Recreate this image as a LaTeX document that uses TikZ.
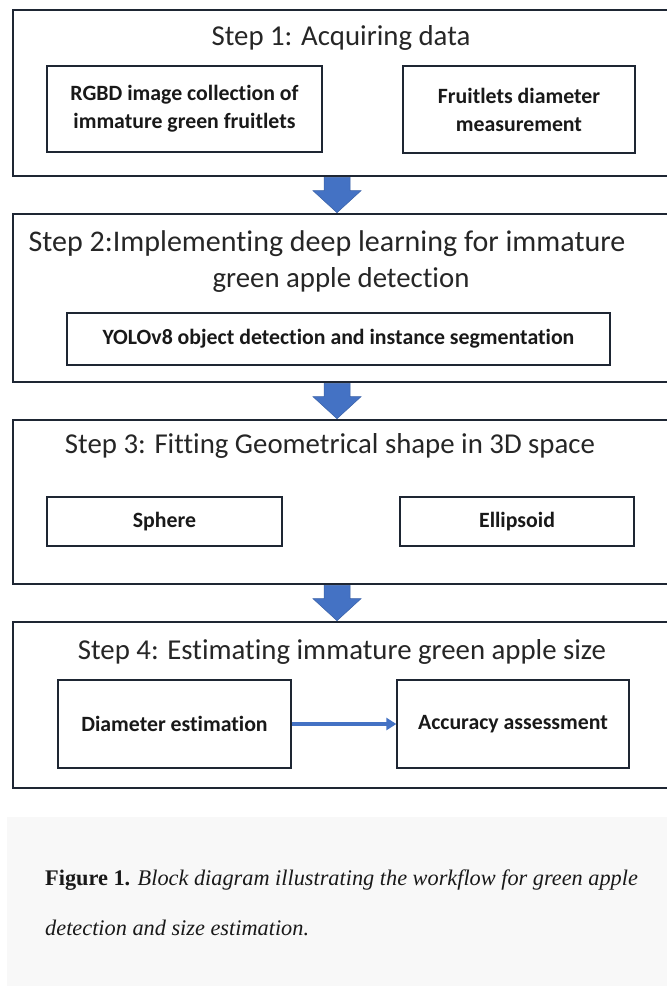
\documentclass[tikz,border=0pt]{standalone}
\usepackage{fontspec}
\setmainfont{Carlito}[Ligatures=NoCommon]
\newfontfamily\capfont{Liberation Serif}
\usetikzlibrary{arrows.meta,calc}
\definecolor{frame}{HTML}{1E2633}
\definecolor{ablue}{HTML}{4472C4}
\definecolor{capbg}{HTML}{F8F8F8}
\newcommand{\blockarr}[2]{%
  \fill[ablue,draw=ablue!85!black,line width=0.5pt] let \p1=(#1.south), \p2=(#2.north) in
    (324pt,\y1) -- (350pt,\y1) -- (350pt,{\y2+22pt}) -- (361pt,{\y2+22pt}) --
    (337pt,\y2) -- (313pt,{\y2+22pt}) -- (324pt,{\y2+22pt}) -- cycle;}
\begin{document}
\begin{tikzpicture}[x=1pt,y=-1pt,
  stepframe/.style={draw=frame,line width=2.6pt,rectangle,inner sep=0pt},
  inbox/.style={draw=frame,line width=1.3pt,rectangle,inner sep=0pt,align=center,
    font=\bfseries\fontsize{21.8}{28}\selectfont,text=black!90},
  steptitle/.style={font=\fontsize{28.8}{36}\selectfont,text=black!85,align=center,inner sep=0pt},
  capline/.style={anchor=base west,inner sep=0pt,font=\capfont\fontsize{22.3}{26}\selectfont,text=black!90},
]
\clip (0,0) rectangle (667,986);
\fill[white] (0,0) rectangle (667,986);
% step frames
\node[stepframe,minimum width=667,minimum height=166] (s1) at (346.5,93) {};
\node[stepframe,minimum width=667,minimum height=168] (s2) at (346.5,298) {};
\node[stepframe,minimum width=667,minimum height=164] (s3) at (346.5,502) {};
\node[stepframe,minimum width=667,minimum height=166] (s4) at (346.5,705) {};
% titles
\node[steptitle] (t1) at (341,38) {Step 1: Acquiring data};
\node[steptitle,font=\fontsize{30}{36}\selectfont] (t2) at (327,244) {Step 2:Implementing deep learning for immature};
\node[steptitle] (t2b) at (341,280) {green apple detection};
\node[steptitle] (t3) at (330,446) {Step 3: Fitting Geometrical shape in 3D space};
\node[steptitle] (t4) at (342,652) {Step 4: Estimating immature green apple size};
% inner boxes
\node[inbox,minimum width=275,minimum height=86] (rgbd) at (184.5,109) {RGBD image collection of\\immature green fruitlets};
\node[inbox,minimum width=232,minimum height=87] (meas) at (519,109.5) {Fruitlets diameter\\measurement};
\node[inbox,minimum width=543,minimum height=52] (yolo) at (338.5,339) {YOLOv8 object detection and instance segmentation};
\node[inbox,minimum width=235,minimum height=49] (sph) at (164.5,521.5) {Sphere};
\node[inbox,minimum width=234,minimum height=49] (ell) at (517,521.5) {Ellipsoid};
\node[inbox,minimum width=233,minimum height=88] (diam) at (174.5,724) {Diameter estimation};
\node[inbox,minimum width=232,minimum height=88] (acc) at (513,724) {Accuracy assessment};
% connectors
\blockarr{s1}{s2}
\blockarr{s2}{s3}
\blockarr{s3}{s4}
\draw[ablue,line width=3.4pt,-{Triangle[length=10pt,width=12pt]}] (diam.east) -- (acc.west);
% caption
\fill[capbg] (7,817) rectangle (667,986);
\node[capline] (cap1) at (45,885) {\textbf{Figure 1.} \textit{Block diagram illustrating the workflow for green apple}};
\node[capline] (cap2) at (45,935) {\textit{detection and size estimation.}};
\end{tikzpicture}
\end{document}
